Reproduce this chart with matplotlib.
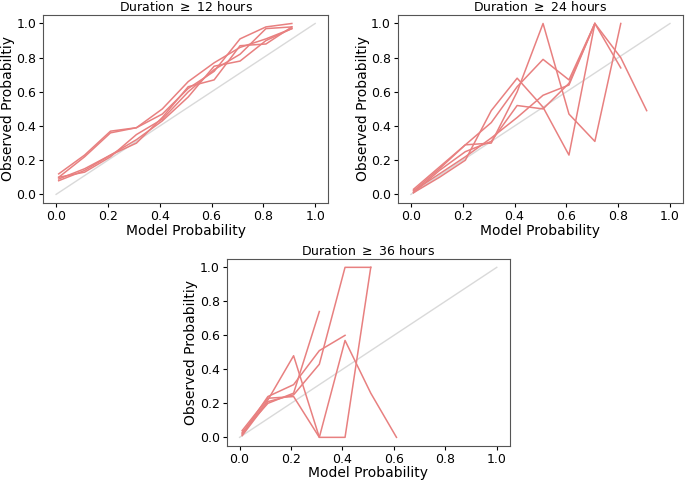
import matplotlib
matplotlib.use('Agg')
import matplotlib.pyplot as plt

# mean model probability per bin (bin centres)
model_prob = [0.01, 0.11, 0.21, 0.31, 0.41, 0.51, 0.61, 0.71, 0.81, 0.91]

# observed probability per fold, duration >= 12 hours
obs_12_a = [0.12, 0.23, 0.37, 0.39, 0.50, 0.66, 0.77, 0.86, 0.91, 0.97]
obs_12_b = [0.10, 0.22, 0.36, 0.39, 0.47, 0.62, 0.72, 0.91, 0.98, 1.00]
obs_12_c = [0.08, 0.14, 0.23, 0.30, 0.45, 0.63, 0.67, 0.87, 0.88, 0.98]
obs_12_d = [0.09, 0.15, 0.23, 0.32, 0.43, 0.57, 0.75, 0.78, 0.90, 0.97]
obs_12_e = [0.10, 0.13, 0.22, 0.35, 0.44, 0.60, 0.73, 0.82, 0.97, 0.98]

# duration >= 24 hours
obs_24_a = [0.02, 0.15, 0.29, 0.30, 0.60, 1.00, 0.47, 0.31, 1.00]
obs_24_b = [0.01, 0.10, 0.20, 0.49, 0.68, 0.51, 0.23, 1.00]
obs_24_c = [0.03, 0.16, 0.29, 0.42, 0.63, 0.79, 0.67, 1.00, 0.80, 0.49]
obs_24_d = [0.02, 0.12, 0.22, 0.33, 0.45, 0.58, 0.64, 1.00, 0.74]
obs_24_e = [0.01, 0.14, 0.25, 0.31, 0.52, 0.50, 0.65, 1.00]

# duration >= 36 hours
obs_36_a = [0.02, 0.22, 0.48, 0.00, 0.00, 1.00]
obs_36_b = [0.03, 0.20, 0.26, 0.74]
obs_36_c = [0.02, 0.24, 0.31, 0.51, 0.60]
obs_36_d = [0.01, 0.21, 0.25, 0.43, 1.00, 1.00]
obs_36_e = [0.04, 0.23, 0.24, 0.00, 0.57, 0.26, 0.00]

panels = [
    ('12', [obs_12_a, obs_12_b, obs_12_c, obs_12_d, obs_12_e]),
    ('24', [obs_24_a, obs_24_b, obs_24_c, obs_24_d, obs_24_e]),
    ('36', [obs_36_a, obs_36_b, obs_36_c, obs_36_d, obs_36_e]),
]

boxes = [
    [0.063, 0.579, 0.416, 0.390],
    [0.581, 0.579, 0.416, 0.390],
    [0.331, 0.075, 0.413, 0.388],
]

line_color = '#E88080'
ticks = [0.0, 0.2, 0.4, 0.6, 0.8, 1.0]

fig = plt.figure(figsize=(6.85, 4.82), dpi=100)

for (hours, curves), box in zip(panels, boxes):
    ax = fig.add_axes(box)
    ax.plot([0, 1], [0, 1], color='#D9D9D9', linewidth=1.0)
    for obs in curves:
        ax.plot(model_prob[:len(obs)], obs, color=line_color, linewidth=1.1)
    ax.set_xlim(-0.05, 1.05)
    ax.set_ylim(-0.05, 1.05)
    ax.set_xticks(ticks)
    ax.set_yticks(ticks)
    ax.set_xticklabels(['{:.1f}'.format(t) for t in ticks])
    ax.set_yticklabels(['{:.1f}'.format(t) for t in ticks])
    ax.tick_params(labelsize=9, length=3, pad=2)
    ax.set_title('Duration $\\geq$ ' + hours + ' hours', fontsize=9, pad=3)
    ax.set_xlabel('Model Probability', fontsize=10, labelpad=0.5)
    ax.set_ylabel('Observed Probabiltiy', fontsize=10, labelpad=1)
    for spine in ax.spines.values():
        spine.set_color('#555555')

fig.savefig('out.png', dpi=100)
